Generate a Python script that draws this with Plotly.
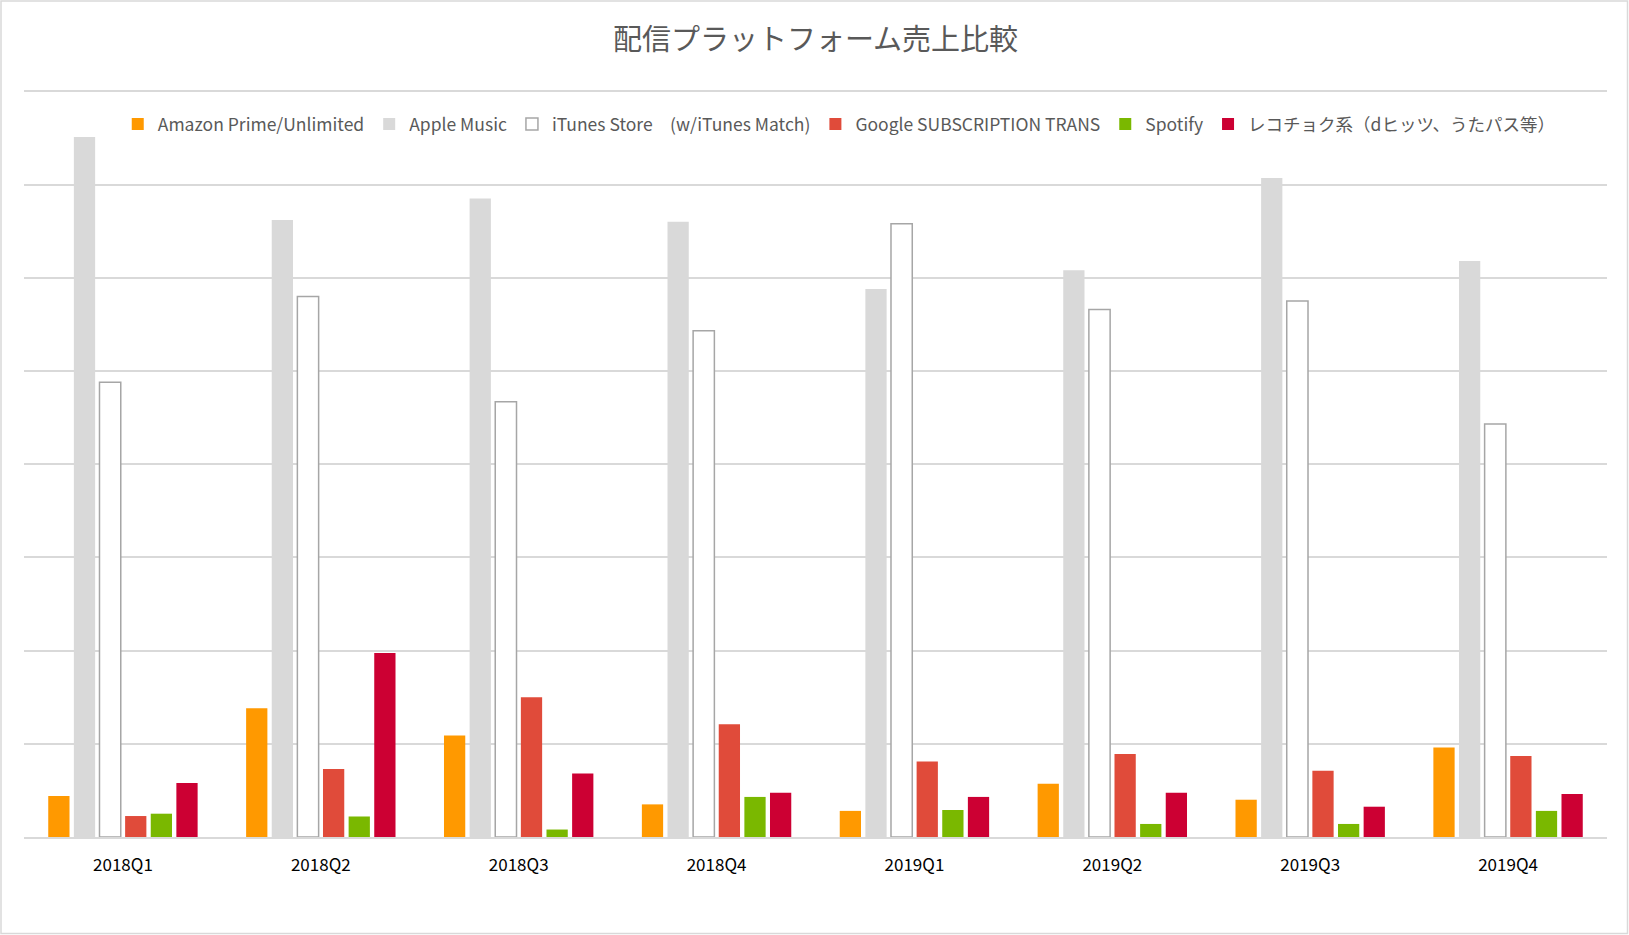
import plotly.graph_objects as go

categories = ["2018Q1", "2018Q2", "2018Q3", "2018Q4", "2019Q1", "2019Q2", "2019Q3", "2019Q4"]

amazon = [4.4, 13.8, 10.9, 3.5, 2.8, 5.7, 4.0, 9.6]
apple_music = [75.1, 66.2, 68.5, 66.0, 58.8, 60.8, 70.7, 61.8]
itunes = [48.8, 58.0, 46.7, 54.3, 65.8, 56.6, 57.5, 44.3]
google = [2.25, 7.3, 15.0, 12.1, 8.1, 8.9, 7.1, 8.7]
spotify = [2.5, 2.2, 0.8, 4.3, 2.9, 1.4, 1.4, 2.8]
recochoku = [5.8, 19.75, 6.8, 4.75, 4.3, 4.75, 3.25, 4.6]

series_names = [
    "Amazon Prime/Unlimited",
    "Apple Music",
    "iTunes Store\u3000(w/iTunes Match)",
    "Google SUBSCRIPTION TRANS",
    "Spotify",
    "レコチョク系（dヒッツ、うたパス等）",
]
series_values = [amazon, apple_music, itunes, google, spotify, recochoku]
fill_colors = ["#FF9900", "#D9D9D9", "#FFFFFF", "#E04B3A", "#7AB800", "#CC0033"]
line_colors = ["#FF9900", "#D9D9D9", "#A6A6A6", "#E04B3A", "#7AB800", "#CC0033"]
line_widths = [0, 0, 1.5, 0, 0, 0]

W, H = 1629, 935
L, R, T, B = 24, 22, 82, 98
pw, ph = W - L - R, H - T - B
BASE = H - B  # pixel y of the baseline

fig = go.Figure()
for name, vals, fc, lc, lw in zip(series_names, series_values, fill_colors, line_colors, line_widths):
    fig.add_trace(go.Bar(
        x=categories, y=vals, name=name,
        marker=dict(color=fc, line=dict(color=lc, width=lw)),
    ))

FONT = "Noto Sans CJK JP, Noto Sans, sans-serif"

fig.update_layout(
    width=W, height=H,
    margin=dict(l=L, r=R, t=T, b=B, pad=0),
    paper_bgcolor="white", plot_bgcolor="white",
    font=dict(family=FONT, color="#595959"),
    title=dict(text="配信プラットフォーム売上比較", x=0.5, xref="paper", xanchor="center",
               y=1 - 40 / H, yanchor="middle",
               font=dict(size=29, color="#595959", family=FONT)),
    barmode="group", bargap=0.223, bargroupgap=0.17,
    legend=dict(orientation="h", x=0.515, xanchor="center", y=(BASE - 124) / ph,
                yanchor="middle", font=dict(size=17.5, color="#595959"),
                bgcolor="rgba(255,255,255,0)", itemwidth=30, traceorder="normal"),
    showlegend=True,
    xaxis=dict(showgrid=False, showline=True, linecolor="#D9D9D9", linewidth=2,
               ticks="", tickfont=dict(size=17, color="#000000"), ticklabelstandoff=12,
               fixedrange=True),
    yaxis=dict(range=[0, 81], tickvals=[10, 20, 30, 40, 50, 60, 70, 80], showgrid=True,
               gridcolor="#D9D9D9", gridwidth=2,
               showticklabels=False, zeroline=False, fixedrange=True),
    shapes=[dict(type="rect", xref="paper", yref="paper",
                 x0=(1 - L) / pw, x1=(W - 1.5 - L) / pw,
                 y0=(BASE - (H - 1.5)) / ph, y1=(BASE - 1) / ph,
                 line=dict(color="#D9D9D9", width=1.5), fillcolor="rgba(0,0,0,0)", layer="below")],
)

fig.write_html("out.html", config={"displayModeBar": False},
               post_script="document.body.style.margin='0';document.body.style.overflow='hidden';")
